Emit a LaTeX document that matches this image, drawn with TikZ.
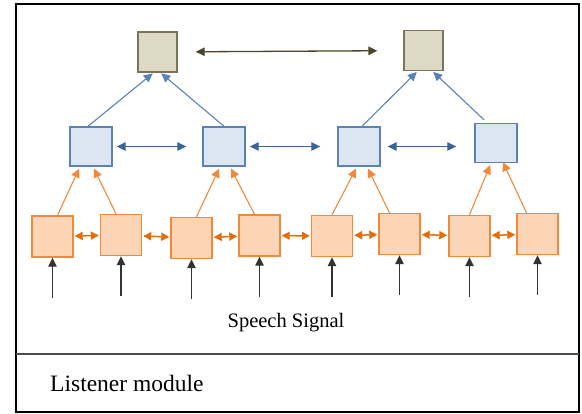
\documentclass[tikz,border=0pt]{standalone}
\usepackage{fontspec}
\setmainfont{Liberation Serif}
\usetikzlibrary{positioning, arrows.meta}
\definecolor{tanfill}{HTML}{DDD9C4}
\definecolor{tanline}{HTML}{7A7558}
\definecolor{tanarrow}{HTML}{4A452A}
\definecolor{bluefill}{HTML}{DCE6F2}
\definecolor{blueline}{HTML}{5A82B4}
\definecolor{bluedark}{HTML}{3A6496}
\definecolor{orfill}{HTML}{FBD5B5}
\definecolor{orline}{HTML}{F08A3A}
\definecolor{orarrow}{HTML}{E46C0A}
\tikzset{
>={Triangle[length=9pt, width=8.5pt]}, % filled heads on every arrow
topcell/.style={draw=tanline, fill=tanfill, line width=1.4pt, minimum width=39pt, minimum height=40pt}, % top layer
midcell/.style={draw=blueline, fill=bluefill, line width=1.4pt, minimum width=42pt, minimum height=39pt}, % middle layer
lowcell/.style={draw=orline, fill=orfill, line width=1.4pt, minimum size=41pt}, % bottom layer
uptan/.style={->, draw=blueline, line width=1.1pt, shorten >=1pt},
upblue/.style={->, draw=orline, line width=1.1pt, shorten >=2pt},
sideblue/.style={<->, draw=bluedark, line width=1.1pt},
sideorange/.style={{Triangle[length=8pt, width=8pt]}-{Triangle[length=8pt, width=8pt]}, draw=orarrow, line width=1.5pt, shorten <=1pt, shorten >=1pt},
signal/.style={->, draw=black!80, line width=1.2pt},
}

\begin{document}
\begin{tikzpicture}[x=1pt, y=-1pt]
        \useasboundingbox (0,0) rectangle (582,414);
        \draw[line width=1.8pt] (16,4) rectangle (579,412);
        \draw[line width=1.4pt, black!70] (16,354) -- (579,354);

        % pyramid layers
        \node[topcell] (t1) at (157.5,52) {};
        \node[topcell] (t2) at (423.5,50.5) {};

        \node[midcell] (b1) at (91,146.5) {};
        \node[midcell] (b2) at (224,146.5) {};
        \node[midcell] (b3) at (359,146.5) {};
        \node[midcell] (b4) at (496,143) {};

        \node[lowcell] (o1) at (52.5,236.5) {};
        \node[lowcell] (o2) at (121,235) {};
        \node[lowcell] (o3) at (191.5,238) {};
        \node[lowcell] (o4) at (259.5,235.5) {};
        \node[lowcell] (o5) at (332,236) {};
        \node[lowcell] (o6) at (399.5,234) {};
        \node[lowcell] (o7) at (469.5,236) {};
        \node[lowcell] (o8) at (537.5,234) {};

        % input ends
        \coordinate (s1) at ([yshift=-40pt]o1.south);
        \coordinate (s2) at ([yshift=-40pt]o2.south);
        \coordinate (s3) at ([yshift=-40pt]o3.south);
        \coordinate (s4) at ([yshift=-40pt]o4.south);
        \coordinate (s5) at ([yshift=-40pt]o5.south);
        \coordinate (s6) at ([yshift=-40pt]o6.south);
        \coordinate (s7) at ([yshift=-40pt]o7.south);
        \coordinate (s8) at ([yshift=-40pt]o8.south);

        \node[anchor=base] (sig) at (286,328) {\fontsize{20.5}{24}\selectfont Speech Signal};
        \node[anchor=base west] (lst) at (46.7,392) {\fontsize{23.5}{28}\selectfont Listener module};

        \draw[<->, draw=tanarrow, line width=1.3pt, shorten <=18pt, shorten >=26pt] (t1) -- (t2);

        \draw[sideblue, shorten <=4pt, shorten >=16pt] (b1) -- (b2);
        \draw[sideblue, shorten <=4pt, shorten >=17pt] (b2) -- (b3);
        \draw[sideblue, shorten <=7pt, shorten >=18pt] (b3.east) -- (b3.east -| b4.west);

        \draw[uptan] ([xshift=-3pt]b1.north) -- ([xshift=-4pt]t1.south);
        \draw[uptan] (b2.north) -- ([xshift=3pt]t1.south);
        \draw[uptan] ([xshift=3pt]b3.north) -- ([xshift=-6pt]t2.south);
        \draw[uptan] ([xshift=-12pt,yshift=3pt]b4.north) -- ([xshift=9pt]t2.south);

        \draw[upblue] ([xshift=5pt]o1.north) -- ([xshift=-11pt]b1.south);
        \draw[upblue] ([xshift=-5pt]o2.north) -- ([xshift=2pt]b1.south);
        \draw[upblue] ([xshift=5pt]o3.north) -- ([xshift=-4pt]b2.south);
        \draw[upblue] ([xshift=-5pt]o4.north) -- ([xshift=6pt]b2.south);
        \draw[upblue] (o5.north) -- ([xshift=-2pt]b3.south);
        \draw[upblue] ([xshift=-10pt]o6.north) -- ([xshift=8pt]b3.south);
        \draw[upblue] (o7.north) -- ([xshift=-5pt]b4.south);
        \draw[upblue] ([xshift=-11pt]o8.north) -- ([xshift=6pt,yshift=3pt]b4.south);

        \draw[sideorange] (o1) -- (o2);
        \draw[sideorange] (o2) -- (o3);
        \draw[sideorange] (o3) -- (o4);
        \draw[sideorange] (o4) -- (o5);
        \draw[sideorange] (o5) -- (o6);
        \draw[sideorange] (o6) -- (o7);
        \draw[sideorange] (o7) -- (o8);

        \draw[signal] (s1) -- (o1);
        \draw[signal] (s2) -- (o2);
        \draw[signal] (s3) -- (o3);
        \draw[signal] (s4) -- (o4);
        \draw[signal] (s5) -- (o5);
        \draw[signal] (s6) -- (o6);
        \draw[signal] (s7) -- (o7);
        \draw[signal] (s8) -- (o8);
    \end{tikzpicture}
\end{document}
